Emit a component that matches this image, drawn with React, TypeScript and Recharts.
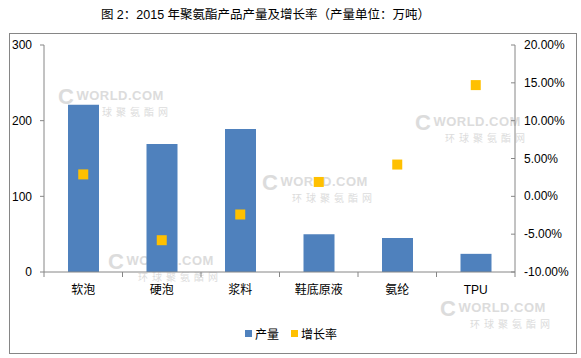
import { ComposedChart, Bar, Line, XAxis, YAxis } from "recharts"

const categories = ["软泡", "硬泡", "浆料", "鞋底原液", "氨纶", "TPU"]
const output = [221, 169, 189, 50, 45, 24]
const growth = [2.9, -5.8, -2.4, 1.9, 4.2, 14.7]
const leftTicks = [0, 100, 200, 300]
const rightTicks = [-10, -5, 0, 5, 10, 15, 20]

const data = categories.map((name, i) => ({ name, output: output[i], growth: growth[i] }))

const FONT = '"Liberation Sans", Arial, "Noto Sans CJK SC", sans-serif'
const AXIS = "#868686"
const BLUE = "#4F81BD"
const GOLD = "#FFC000"
const BAND = (515 - 44) / categories.length

// eslint-disable-next-line @typescript-eslint/no-explicit-any
const XTick = ({ x, y, payload, index }: any) => (
  <g>
    <line x1={x - BAND / 2} y1={y} x2={x - BAND / 2} y2={y + 5} stroke={AXIS} />
    {index === categories.length - 1 && (
      <line x1={x + BAND / 2} y1={y} x2={x + BAND / 2} y2={y + 5} stroke={AXIS} />
    )}
    <text x={x} y={y + 22} textAnchor="middle" fontSize={12} fill="#000" fontFamily={FONT}>
      {payload.value}
    </text>
  </g>
)

// eslint-disable-next-line @typescript-eslint/no-explicit-any
const RightTick = ({ x, y, payload }: any) => (
  <g>
    <line x1={x - 13} y1={y} x2={x - 9} y2={y} stroke={AXIS} />
    <text x={x} y={y + 4} textAnchor="start" fontSize={12} fill="#000" fontFamily={FONT}>
      {payload.value.toFixed(2)}%
    </text>
  </g>
)

// eslint-disable-next-line @typescript-eslint/no-explicit-any
const Square = ({ cx, cy, index }: any) => (
  <rect key={`sq-${index}`} x={cx - 5} y={cy - 5} width={10} height={10} fill={GOLD} />
)

// faint site watermarks scattered over the picture
const watermarks = [
  { x: 58, y: 86 },
  { x: 262, y: 172 },
  { x: 108, y: 251 },
  { x: 415, y: 112 },
  { x: 440, y: 298 },
]

export default function App() {
  return (
    <div style={{ position: "absolute", left: 0, top: 0, width: 581, height: 358, background: "#fff", fontFamily: FONT }}>
      <div style={{ position: "absolute", left: 0, top: 4, width: 531, textAlign: "center", fontSize: 12.5, color: "#000" }}>
        图 2：2015 年聚氨酯产品产量及增长率（产量单位：万吨）
      </div>
      <div style={{ position: "absolute", left: 9, top: 33, width: 566, height: 319, border: `1px solid ${AXIS}` }} />
      {watermarks.map((w, i) => (
        <div key={i} style={{ position: "absolute", left: w.x, top: w.y, color: "#dcdcdc", lineHeight: 1 }}>
          <div style={{ fontSize: 13, fontWeight: "bold", letterSpacing: 0.5 }}>
            <span style={{ fontSize: 22, verticalAlign: -4, marginRight: 2 }}>C</span>WORLD.COM
          </div>
          <div style={{ fontSize: 10, letterSpacing: 4, marginLeft: 30 }}>环球聚氨酯网</div>
        </div>
      ))}
      <ComposedChart
        width={581}
        height={358}
        data={data}
        margin={{ top: 45, right: 0, left: 0, bottom: 56 }}
        style={{ position: "absolute", left: 0, top: 0 }}
      >
        <XAxis
          dataKey="name"
          height={30}
          stroke={AXIS}
          tickLine={false}
          tick={<XTick />}
          tickSize={0}
          tickMargin={0}
          interval={0}
        />
        <YAxis
          yAxisId="left"
          width={44}
          domain={[0, 300]}
          ticks={leftTicks}
          stroke={AXIS}
          tickSize={4}
          tickMargin={8}
          tick={{ fill: "#000", fontSize: 12, fontFamily: FONT }}
        />
        <YAxis
          yAxisId="right"
          orientation="right"
          width={66}
          domain={[-10, 20]}
          ticks={rightTicks}
          stroke={AXIS}
          tickLine={false}
          tickSize={0}
          tickMargin={9}
          tick={<RightTick />}
        />
        <Bar yAxisId="left" dataKey="output" name="产量" fill={BLUE} barSize={31} isAnimationActive={false} />
        <Line
          yAxisId="right"
          dataKey="growth"
          name="增长率"
          stroke="none"
          dot={<Square />}
          activeDot={false}
          isAnimationActive={false}
        />
      </ComposedChart>
      <div style={{ position: "absolute", left: 245, top: 325, display: "flex", alignItems: "center", fontSize: 12, color: "#000" }}>
        <span style={{ width: 7, height: 7, background: BLUE, marginRight: 3 }} />
        <span style={{ marginRight: 12 }}>产量</span>
        <span style={{ width: 7, height: 7, background: GOLD, marginRight: 3 }} />
        <span>增长率</span>
      </div>
    </div>
  )
}
